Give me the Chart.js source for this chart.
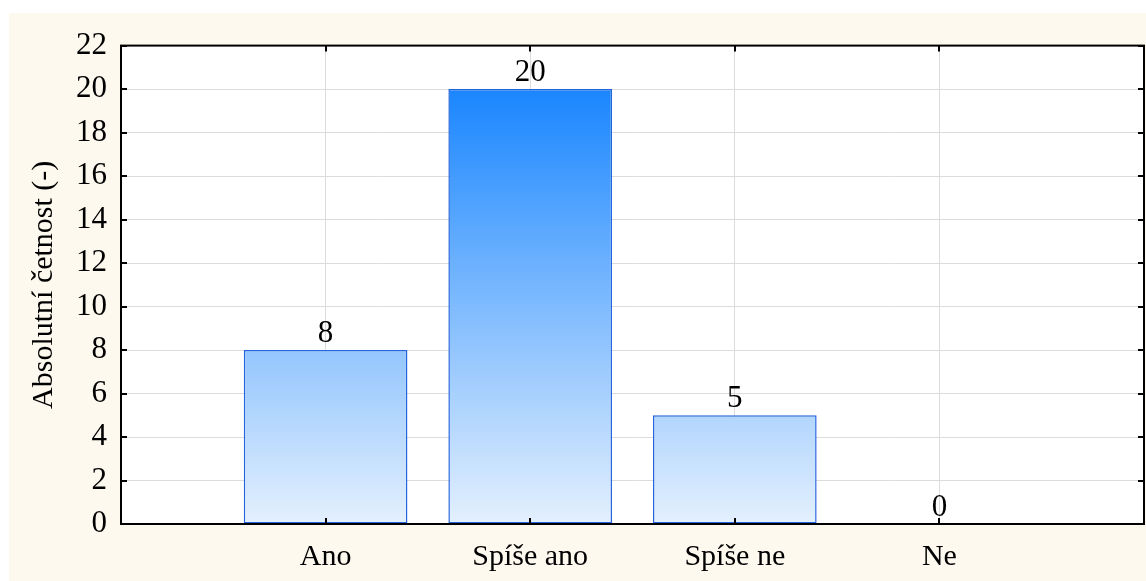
<!DOCTYPE html>
<html>
<head>
<meta charset="utf-8">
<script src="https://cdn.jsdelivr.net/npm/chart.js@4/dist/chart.umd.min.js"></script>
<style>
  html, body { margin: 0; padding: 0; background: #ffffff; }
  #wrap { position: absolute; left: 9px; top: 13px; width: 1137px; height: 568px; background: #fdf9ef; }
  canvas { display: block; }
</style>
</head>
<body>
<div id="wrap"><canvas id="c" width="1137" height="568"></canvas></div>
<script>
// Odpovědi a jejich absolutní četnosti
const categories = ['Ano', 'Spíše ano', 'Spíše ne', 'Ne'];
const counts = [8, 20, 5, 0];
const yTicks = [0, 2, 4, 6, 8, 10, 12, 14, 16, 18, 20, 22];
const yTitle = 'Absolutní četnost (-)';

// Empty slots at both ends leave a gap of one category on each side
const labels = [''].concat(categories, ['']);
const values = [null].concat(counts, [null]);

const FONT = 'Liberation Serif, "Times New Roman", serif';

// Vertical gradient tied to the value scale: pale at zero, saturated blue at the maximum
function barGradient(ctx) {
  const chart = ctx.chart;
  const y = chart.scales.y;
  if (!y || !chart.chartArea) return '#8ec4fc';
  const y0 = y.getPixelForValue(0);
  const y1 = y.getPixelForValue(Math.max(...counts));
  const g = chart.ctx.createLinearGradient(0, y0, 0, y1);
  g.addColorStop(0, '#e4f0fd');
  g.addColorStop(1, '#1a86ff');
  return g;
}

// White plot background
const plotBg = {
  id: 'plotBg',
  beforeDraw(chart) {
    const { ctx, chartArea: a } = chart;
    ctx.save();
    ctx.fillStyle = '#ffffff';
    ctx.fillRect(a.left, a.top, a.right - a.left, a.bottom - a.top);
    ctx.restore();
  }
};

// Plot frame, inward tick marks and value labels above the bars
const framePlugin = {
  id: 'frame',
  afterDatasetsDraw(chart) {
    const { ctx, chartArea: a, scales } = chart;
    ctx.save();
    ctx.strokeStyle = '#000';
    ctx.lineWidth = 2;
    const len = 6;
    ctx.beginPath();
    yTicks.forEach(v => {
      const py = Math.round(scales.y.getPixelForValue(v));
      ctx.moveTo(a.left, py); ctx.lineTo(a.left + len, py);
      ctx.moveTo(a.right, py); ctx.lineTo(a.right - len, py);
    });
    categories.forEach((c, i) => {
      const px = Math.round(scales.x.getPixelForValue(i + 1));
      ctx.moveTo(px, a.top); ctx.lineTo(px, a.top + len);
      ctx.moveTo(px, a.bottom); ctx.lineTo(px, a.bottom - len);
    });
    ctx.stroke();
    ctx.strokeRect(a.left, a.top, a.right - a.left, a.bottom - a.top);

    // value labels
    const meta = chart.getDatasetMeta(0);
    ctx.fillStyle = '#000';
    ctx.font = '31px ' + FONT;
    ctx.textAlign = 'center';
    ctx.textBaseline = 'alphabetic';
    meta.data.forEach((bar, i) => {
      const v = values[i];
      if (v === null || v === undefined) return;
      ctx.fillText(String(v), bar.x, bar.y - 8);
    });
    ctx.restore();
  }
};

new Chart(document.getElementById('c'), {
  type: 'bar',
  data: {
    labels: labels,
    datasets: [{
      data: values,
      backgroundColor: barGradient,
      borderColor: '#2464dc',
      borderWidth: 1.5,
      borderSkipped: false,
      barPercentage: 0.8,
      categoryPercentage: 1.0
    }]
  },
  options: {
    responsive: false,
    animation: false,
    events: [],
    layout: { padding: { left: 0, right: 2, top: 32, bottom: 0 } },
    plugins: {
      legend: { display: false },
      tooltip: { enabled: false }
    },
    scales: {
      x: {
        offset: false,
        grid: {
          offset: false,
          color: '#dcdcdc',
          lineWidth: 1,
          drawTicks: true,
          tickLength: 15,
          tickColor: 'rgba(0,0,0,0)'
        },
        border: { display: false },
        ticks: {
          color: '#000',
          font: { family: FONT, size: 30 },
          padding: 0,
          maxRotation: 0,
          autoSkip: false
        },
        afterFit(scale) { scale.height = 57; }
      },
      y: {
        min: 0,
        max: 22,
        grid: { color: '#dcdcdc', lineWidth: 1, drawTicks: false },
        border: { display: false },
        ticks: {
          stepSize: 2,
          color: '#000',
          font: { family: FONT, size: 31 },
          padding: 14
        },
        title: {
          display: true,
          text: yTitle,
          color: '#000',
          font: { family: FONT, size: 30 },
          padding: { top: 17, bottom: 0 }
        },
        afterFit(scale) { scale.width = 112; }
      }
    }
  },
  plugins: [plotBg, framePlugin]
});
</script>
</body>
</html>
